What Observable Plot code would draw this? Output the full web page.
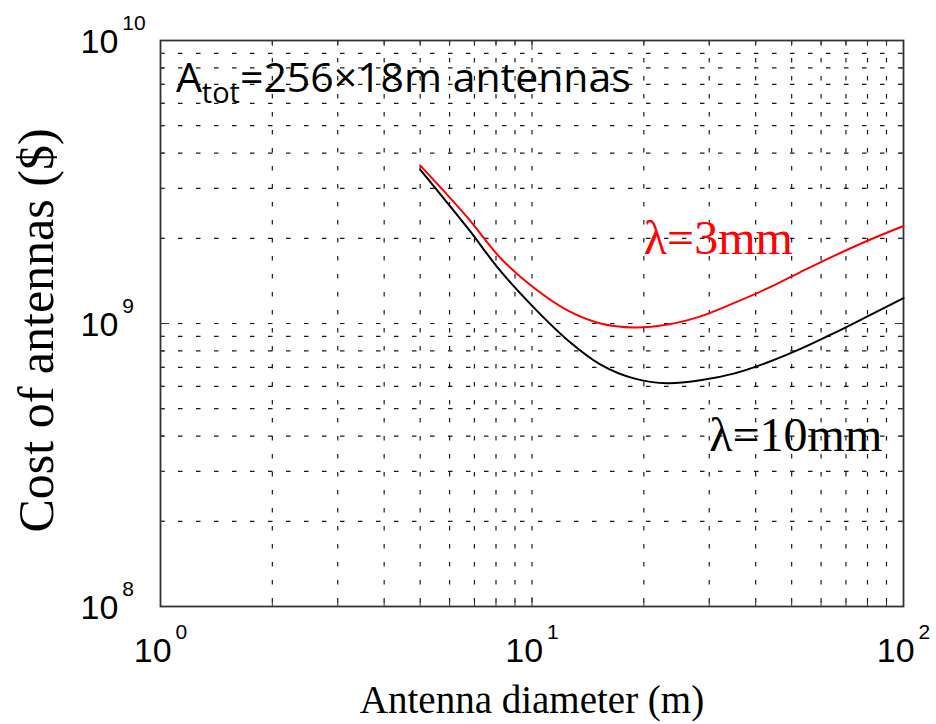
<!DOCTYPE html>
<html>
<head>
<meta charset="utf-8">
<script src="https://cdn.jsdelivr.net/npm/d3@7"></script>
<script src="https://cdn.jsdelivr.net/npm/@observablehq/plot@0.6"></script>
<style>
  html, body { margin: 0; padding: 0; background: #fff; }
  #chart svg { display: block; }
</style>
</head>
<body>
<div id="chart"></div>
<script>
// ---- data ----
const diameter = [5.0, 6.7, 8.2, 10.1, 12.5, 15.3, 18.8, 23.2, 28.4, 34.9, 43.0, 52.8, 64.8, 80.0, 100];
const cost10mm = [3.50e9, 2.18e9, 1.54e9, 1.14e9, 8.71e8, 7.16e8, 6.40e8, 6.15e8, 6.30e8, 6.65e8, 7.28e8, 8.13e8, 9.23e8, 1.06e9, 1.23e9];
const cost3mm  = [3.62e9, 2.37e9, 1.71e9, 1.34e9, 1.11e9, 1.00e9, 9.68e8, 9.91e8, 1.06e9, 1.18e9, 1.33e9, 1.52e9, 1.73e9, 1.96e9, 2.21e9];
const seriesNames = ["λ=10mm", "λ=3mm"];
const seriesColors = ["#000000", "#ff0000"];

const xMajorTicks = [1, 10, 100];
const xMinorTicks = [2, 3, 4, 5, 6, 7, 8, 9, 20, 30, 40, 50, 60, 70, 80, 90];
const yMajorTicks = [1e8, 1e9, 1e10];
const yMinorTicks = [2e8, 3e8, 4e8, 5e8, 6e8, 7e8, 8e8, 9e8, 2e9, 3e9, 4e9, 5e9, 6e9, 7e9, 8e9, 9e9];

const seriesLabels = [
  {text: "λ=3mm", x: 20, y: 2.0e9, color: "#ff0000"},
  {text: "λ=10mm", x: 30, y: 4.0e8, color: "#000000"}
];
const annotation = [{text: "A_tot=256×18m antennas", x: 1.1, y: 7.3e9}];
const xTitle = "Antenna diameter (m)";
const yTitle = "Cost of antennas ($)";

// ---- build table ----
const rows = [];
diameter.forEach((d, i) => {
  rows.push({series: seriesNames[0], d, cost: cost10mm[i]});
  rows.push({series: seriesNames[1], d, cost: cost3mm[i]});
});

const expFmt = d => "10^" + Math.round(Math.log10(d));
const gridStyle = {stroke: "#000", strokeOpacity: 0.9, strokeWidth: 1.2, strokeDasharray: "4.5,13.5"};

const plot = Plot.plot({
  width: 936,
  height: 724,
  marginLeft: 160,
  marginRight: 33,
  marginTop: 40,
  marginBottom: 118,
  style: {background: "#fff", color: "#000", overflow: "visible"},
  x: {type: "log", domain: [1, 100]},
  y: {type: "log", domain: [1e8, 1e10]},
  color: {domain: seriesNames, range: seriesColors},
  marks: [
    Plot.gridX([...xMinorTicks, 10], gridStyle),
    Plot.gridY([...yMinorTicks, 1e9], gridStyle),
    // inward tick marks on all four sides
    Plot.axisX({anchor: "bottom", ticks: xMinorTicks, tickSize: -5, tickFormat: () => "", label: null, stroke: "#333"}),
    Plot.axisX({anchor: "bottom", ticks: xMajorTicks, tickSize: -9, tickFormat: () => "", label: null, stroke: "#333"}),
    Plot.axisX({anchor: "top", ticks: xMinorTicks, tickSize: -5, tickFormat: () => "", label: null, stroke: "#333"}),
    Plot.axisX({anchor: "top", ticks: xMajorTicks, tickSize: -9, tickFormat: () => "", label: null, stroke: "#333"}),
    Plot.axisY({anchor: "left", ticks: yMinorTicks, tickSize: -5, tickFormat: () => "", label: null, stroke: "#333"}),
    Plot.axisY({anchor: "left", ticks: yMajorTicks, tickSize: -9, tickFormat: () => "", label: null, stroke: "#333"}),
    Plot.axisY({anchor: "right", ticks: yMinorTicks, tickSize: -5, tickFormat: () => "", label: null, stroke: "#333"}),
    Plot.axisY({anchor: "right", ticks: yMajorTicks, tickSize: -9, tickFormat: () => "", label: null, stroke: "#333"}),
    // tick labels
    Plot.axisX({anchor: "bottom", ticks: xMajorTicks, tickSize: 0, tickPadding: 31, tickFormat: expFmt, label: null,
      fontSize: 34, fontFamily: "Liberation Sans"}),
    Plot.axisY({anchor: "left", ticks: yMajorTicks, tickSize: 0, tickPadding: 80, textAnchor: "start", tickFormat: expFmt, label: null,
      fontSize: 34, fontFamily: "Liberation Sans", dy: 2}),
    Plot.frame({stroke: "#333", strokeWidth: 1.8}),
    Plot.line(rows, {x: "d", y: "cost", z: "series", stroke: "series", strokeWidth: 2, curve: "catmull-rom"}),
    Plot.text(seriesLabels, {x: "x", y: "y", text: "text", fill: d => d.color, textAnchor: "start",
      fontSize: 48, fontFamily: "Liberation Serif"}),
    Plot.text(annotation, {x: "x", y: "y", text: "text", textAnchor: "start", fill: "#000",
      fontSize: 41, fontFamily: "Open Sans"}),
    Plot.text([xTitle], {frameAnchor: "bottom", textAnchor: "middle", dy: 106, text: d => d, fontSize: 39, fontFamily: "Liberation Serif", fill: "#000"}),
    Plot.text([yTitle], {frameAnchor: "left", textAnchor: "middle", dx: -124, dy: 7, rotate: -90, text: d => d, fontSize: 50, fontFamily: "Liberation Serif", fill: "#000"})
  ]
});

// ---- rich text: superscripts in tick labels, subscript in annotation ----
const NS = "http://www.w3.org/2000/svg";
plot.querySelectorAll("text").forEach(t => {
  const s = t.textContent;
  const m = /^10\^(\d+)$/.exec(s);
  if (m) {
    t.textContent = "10";
    t.style.fontSize = "34px";
    t.style.fontFamily = "'Liberation Sans', Arial, sans-serif";
    const sup = document.createElementNS(NS, "tspan");
    sup.setAttribute("dy", "-23");
    sup.setAttribute("dx", "4");
    sup.style.fontSize = "21px";
    sup.textContent = m[1];
    t.appendChild(sup);
  } else if (s.startsWith("A_tot")) {
    t.textContent = "A";
    const sub = document.createElementNS(NS, "tspan");
    sub.setAttribute("dy", "11");
    sub.style.fontSize = "29px";
    sub.textContent = "tot";
    const rest = document.createElementNS(NS, "tspan");
    rest.setAttribute("dy", "-11");
    rest.textContent = s.slice(5);
    t.appendChild(sub);
    t.appendChild(rest);
  }
});

document.getElementById("chart").appendChild(plot);
</script>
</body>
</html>
